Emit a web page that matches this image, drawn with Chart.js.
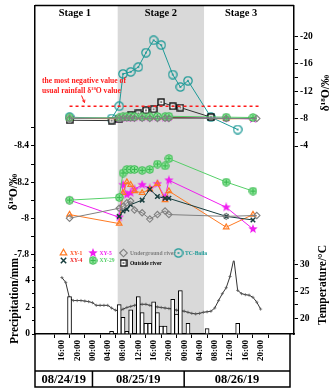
<!DOCTYPE html>
<html>
<head>
<meta charset="utf-8">
<script src="https://cdn.jsdelivr.net/npm/chart.js@4.4.0/dist/chart.umd.min.js"></script>
<style>
  html, body { margin: 0; padding: 0; background: #fff; }
</style>
</head>
<body>
<canvas id="isoChart" width="329" height="390"></canvas>
<script>
const FONT = '"Liberation Serif", "Times New Roman", serif';

// all times are hours counted from 08/24/19 00:00
const gwTime = [18, 31, 32, 33, 34, 35, 37, 39, 41, 43, 44, 59, 66];
const xy1  = [-8.02, -7.97, -8.14, -8.20, -8.185, -8.15, -8.14, -8.16, -8.19, -8.10, -8.15, -7.95, -8.02];
const xy4  = [null, -8.01, -8.04, -8.05, -8.075, null, -8.10, -8.16, -8.12, -8.11, -8.11, -8.01, -7.99];
const xy5  = [-8.10, -8.005, -8.185, -8.13, -8.14, -8.16, -8.185, -8.165, -8.19, -8.115, -8.21, -8.06, -7.94];
const xy29 = [-8.10, -8.115, -8.25, -8.27, -8.27, -8.27, -8.265, -8.27, -8.30, -8.29, -8.33, -8.20, -8.15];

const ugTime  = [18, 31, 32, 33, 34, 35, 37, 39, 41, 43, 44, 59, 67];
const ugRiver = [-8.00, -8.055, -8.065, -8.085, -8.095, -8.045, -8.03, -7.995, -8.02, -8.04, -8.02, -8.01, -8.015];

const tcTime  = [18, 29, 31, 32, 34, 36, 38, 40, 42, 45, 47, 49, 55, 62];
const tcBaila = [-8.2, -8.0, -9.8, -14.5, -14.8, -15.5, -17.6, -19.4, -18.7, -14.4, -12.6, -13.5, -8.2, -6.4];

const orTime       = [18, 29, 31, 34, 36, 38, 40, 42, 45, 47, 55];
const outsideRiver = [-7.75, -7.7, -7.9, -8.5, -8.75, -9.2, -9.35, -10.4, -9.8, -9.6, -8.2];

// most negative usual rainfall value and the span it is drawn over
const rainfallLimit = -9.8;
const limitSpan = [18, 67.5];

const rainTime = [18, 29, 31, 32, 33, 34, 36, 37, 38, 39, 40, 41, 42, 43, 45, 46, 47, 49, 54, 62];
const rainMm   = [2.8, 0.2, 2.2, 1.25, 0.2, 1.8, 2.8, 1.6, 0.8, 0.8, 2.4, 1.6, 0.6, 0.6, 2.6, 1.5, 3.25, 0.8, 0.4, 0.8];

const tempTime = [16, 17, 18, 19, 20, 21, 22, 23, 24, 25, 26, 27, 28, 29, 30, 31, 32, 33, 34, 35, 36, 37, 38, 39, 40, 41, 42,
                  43, 44, 45, 46, 47, 48, 49, 50, 51, 52, 53, 54, 55, 56, 57, 58, 59, 60, 61, 62, 63, 64, 65, 66, 67, 68];
const tempC = [27.6, 26.7, 23.7, 23.3, 23.3, 23.3, 23.2, 23.1, 22.9, 22.4, 22.4, 22.4, 22.4, 21.9, 21.5, 21.3, 21.7, 22.0,
               22.2, 22.4, 22.6, 22.6, 22.6, 22.4, 22.2, 22.1, 22.0, 21.9, 21.8, 21.7, 21.5, 21.4, 21.3, 21.1, 20.9, 20.8,
               20.9, 21.1, 21.2, 21.3, 21.9, 23.3, 24.6, 25.7, 27.8, 31.1, 25.2, 24.6, 24.4, 24.3, 23.9, 23.0, 21.7];

const stageBounds = [30.6, 53.2];
const stageNames = ['Stage 1', 'Stage 2', 'Stage 3'];
const stageLabelTime = [19.4, 41.9, 62.9];
const dayBreaks = [24, 48];
const dayNames = ['08/24/19', '08/25/19', '08/26/19'];
const timeTicks = [16, 20, 24, 28, 32, 36, 40, 44, 48, 52, 56, 60, 64, 68];
const midTicks = [-8.5, -8.4, -8.3, -8.2, -8.1, -8.0, -7.9, -7.8];
const topTicks = [-20, -18, -16, -14, -12, -10, -8, -6, -4];
const rainTicks = [0, 1, 2, 3, 4, 5];
const tempTicks = [20, 22.5, 25, 27.5, 30];

const ORANGE = '#ff7a22', DARK = '#173d3d', MAGENTA = '#f01ef0', GREEN = '#55cf68',
      GRAY = '#808080', TEAL = '#1d9a97';

function markerCanvas(size, draw) {
  const c = document.createElement('canvas');
  c.width = size; c.height = size;
  draw(c.getContext('2d'), size);
  return c;
}

const starMark = markerCanvas(10, (g, s) => {
  const c = s / 2;
  g.beginPath();
  for (let i = 0; i < 10; i++) {
    const r = i % 2 ? c * 0.42 : c * 0.98;
    const a = -Math.PI / 2 + i * Math.PI / 5;
    g.lineTo(c + r * Math.cos(a), c + r * Math.sin(a));
  }
  g.closePath();
  g.fillStyle = MAGENTA;
  g.fill();
});

const plusMark = markerCanvas(9, (g, s) => {
  const c = s / 2;
  g.beginPath();
  g.arc(c, c, c - 0.7, 0, Math.PI * 2);
  g.fillStyle = '#86e293';
  g.fill();
  g.strokeStyle = '#38b84f';
  g.lineWidth = 1;
  g.stroke();
  g.beginPath();
  g.moveTo(c, 2); g.lineTo(c, s - 2);
  g.moveTo(2, c); g.lineTo(s - 2, c);
  g.stroke();
});

const ringMark = markerCanvas(10, (g, s) => {
  const c = s / 2;
  g.beginPath();
  g.arc(c, c, c - 0.8, 0, Math.PI * 2);
  g.strokeStyle = TEAL;
  g.lineWidth = 1.2;
  g.stroke();
  g.beginPath();
  g.arc(c, c, 1, 0, Math.PI * 2);
  g.fillStyle = TEAL;
  g.fill();
});

const boxMark = markerCanvas(8, (g, s) => {
  g.fillStyle = '#fff';
  g.fillRect(1, 1, s - 2, s - 2);
  g.strokeStyle = '#000';
  g.lineWidth = 1.3;
  g.strokeRect(1, 1, s - 2, s - 2);
  g.fillStyle = '#000';
  g.fillRect(s / 2 - 0.7, s / 2 - 0.7, 1.4, 1.4);
});

const looks = {
  'XY-1': { borderColor: ORANGE, pointStyle: 'triangle', pointRadius: 3.2, pointBorderColor: ORANGE,
            pointBackgroundColor: 'rgba(255,255,255,0)', pointBorderWidth: 1.2 },
  'XY-4': { borderColor: DARK, pointStyle: 'crossRot', pointRadius: 3.2, pointBorderColor: DARK, pointBorderWidth: 1.5 },
  'XY-5': { borderColor: MAGENTA, pointStyle: starMark },
  'XY-29': { borderColor: GREEN, pointStyle: plusMark },
  'Underground river': { borderColor: GRAY, pointStyle: 'rectRot', pointRadius: 3.2, pointBorderColor: GRAY,
                         pointBackgroundColor: 'rgba(255,255,255,0)', pointBorderWidth: 1.1 },
  'Outside river': { borderColor: '#333', pointStyle: boxMark },
  'TC-Baila': { borderColor: TEAL, pointStyle: ringMark }
};

function series(label, ts, vs, axis) {
  return Object.assign({
    type: 'line', label, yAxisID: axis,
    data: ts.map((t, i) => ({ x: t, y: vs[i] })).filter(p => p.y !== null),
    borderWidth: 1, tension: 0, spanGaps: true
  }, looks[label]);
}

const datasets = [
  {
    type: 'bar', label: 'Precipitation', yAxisID: 'yP',
    data: rainTime.map((t, i) => ({ x: t, y: rainMm[i] })),
    backgroundColor: '#fff', borderColor: '#000', borderWidth: 1,
    barThickness: 4, grouped: false
  },
  {
    type: 'line', label: 'Temperature', yAxisID: 'yT',
    data: tempTime.map((t, i) => ({ x: t, y: tempC[i] })),
    borderColor: '#333', borderWidth: 1, pointStyle: 'cross', pointRadius: 1.6,
    pointBorderColor: '#555', pointBorderWidth: 0.7, tension: 0
  },
  {
    type: 'line', label: 'Rainfall limit', yAxisID: 'yTop',
    data: limitSpan.map(t => ({ x: t, y: rainfallLimit })),
    borderColor: '#ff1a1a', borderWidth: 1.6, borderDash: [3, 3], pointRadius: 0
  },
  // groundwater series again on the wide right-hand scale
  series('Underground river', ugTime, ugRiver, 'yTop'),
  series('XY-29', gwTime, xy29, 'yTop'),
  series('XY-4', gwTime, xy4, 'yTop'),
  series('XY-1', gwTime, xy1, 'yTop'),
  series('XY-5', gwTime, xy5, 'yTop'),
  series('Outside river', orTime, outsideRiver, 'yTop'),
  series('TC-Baila', tcTime, tcBaila, 'yTop'),
  // groundwater series on the narrow left-hand scale
  series('XY-29', gwTime, xy29, 'yMid'),
  series('Underground river', ugTime, ugRiver, 'yMid'),
  series('XY-4', gwTime, xy4, 'yMid'),
  series('XY-1', gwTime, xy1, 'yMid'),
  series('XY-5', gwTime, xy5, 'yMid')
];

const clock = t => String(t % 24).padStart(2, '0') + ':00';
const setTicks = list => s => { s.ticks = list.map(v => ({ value: v })); };
const fitSide = s => { s.width = 35; s.paddingTop = 0; s.paddingBottom = 0; };
const axisLine = { color: '#000', width: 1.5 };

function sideAxis(position, stack, weight, min, max, list, label, extra) {
  return Object.assign({
    type: 'linear', position, stack, stackWeight: weight, min, max,
    afterBuildTicks: setTicks(list), afterFit: fitSide,
    ticks: { autoSkip: false, padding: 2, color: '#000', font: { size: 9.5, weight: 'bold' }, callback: label },
    grid: { drawOnChartArea: false, tickLength: 4, color: '#000' },
    border: axisLine
  }, extra || {});
}

// rich text with a raised "18" in δ18O
function richText(ctx, parts, x, y, size, align) {
  const fontOf = sup => `bold ${sup ? size * 0.62 : size}px ${FONT}`;
  let w = 0;
  parts.forEach(([t, sup]) => { ctx.font = fontOf(sup); w += ctx.measureText(t).width; });
  let cx = align === 'center' ? x - w / 2 : x;
  ctx.textAlign = 'left';
  ctx.textBaseline = 'alphabetic';
  parts.forEach(([t, sup]) => {
    ctx.font = fontOf(sup);
    ctx.fillText(t, cx, sup ? y - size * 0.38 : y);
    cx += ctx.measureText(t).width;
  });
}

function upText(ctx, parts, cx, cy, size) {
  ctx.save();
  ctx.translate(cx, cy);
  ctx.rotate(-Math.PI / 2);
  richText(ctx, parts, 0, size * 0.35, size, 'center');
  ctx.restore();
}

const deltaTitle = [['δ', false], ['18', true], ['O/‰', false]];

const legendSpots = [
  { label: 'XY-1', x: 63.5, y: 253, color: '#ff4f1f' },
  { label: 'XY-5', x: 93, y: 253, color: MAGENTA },
  { label: 'Underground river', x: 123.5, y: 253, color: GRAY },
  { label: 'TC-Baila', x: 178.5, y: 253, color: TEAL },
  { label: 'XY-4', x: 63.5, y: 260.5, color: '#ee1c1c' },
  { label: 'XY-29', x: 93, y: 260.5, color: GREEN },
  { label: 'Outside river', x: 123.5, y: 263, color: '#000' }
];

const decor = {
  id: 'decor',
  beforeDraw(chart) {
    const { ctx, chartArea: a, scales: { x } } = chart;
    const x0 = x.getPixelForValue(stageBounds[0]);
    const x1 = x.getPixelForValue(stageBounds[1]);
    ctx.save();
    ctx.fillStyle = '#d9d9d9';
    ctx.fillRect(x0, a.top, x1 - x0, a.bottom - a.top);
    ctx.restore();
  },
  afterDraw(chart) {
    const { ctx, chartArea: a, scales: { x } } = chart;
    ctx.save();
    ctx.strokeStyle = '#000';
    ctx.lineWidth = 1.5;

    // top edge of the plot and the date strip underneath
    const tableRight = 290, rowTop = 371, bottom = 387;
    ctx.beginPath();
    ctx.moveTo(a.left, a.top); ctx.lineTo(a.right, a.top);
    ctx.moveTo(a.left, a.bottom); ctx.lineTo(a.left, bottom); ctx.lineTo(tableRight, bottom); ctx.lineTo(tableRight, a.bottom);
    ctx.moveTo(a.left, rowTop); ctx.lineTo(tableRight, rowTop);
    dayBreaks.forEach(t => {
      const px = x.getPixelForValue(t);
      ctx.moveTo(px, rowTop); ctx.lineTo(px, bottom);
    });
    ctx.stroke();

    ctx.fillStyle = '#000';
    ctx.font = `bold 12.5px ${FONT}`;
    ctx.textAlign = 'center';
    ctx.textBaseline = 'alphabetic';
    const cells = [a.left, ...dayBreaks.map(t => x.getPixelForValue(t)), tableRight];
    dayNames.forEach((d, i) => ctx.fillText(d, (cells[i] + cells[i + 1]) / 2, 382.5));

    ctx.font = `bold 10.5px ${FONT}`;
    stageNames.forEach((s, i) => ctx.fillText(s, x.getPixelForValue(stageLabelTime[i]), 15.5));

    // axis titles
    upText(ctx, deltaTitle, 13, 192, 11.5);
    upText(ctx, [['Precipitation/mm', false]], 14, 301, 11.5);
    upText(ctx, deltaTitle, 325, 93, 11.5);
    upText(ctx, [['Temperature/°C', false]], 322, 285, 11.5);

    // note on the red dashed line
    ctx.fillStyle = '#ff1a1a';
    richText(ctx, [['the most negative value of', false]], 42, 83, 7.6, 'left');
    richText(ctx, [['usual rainfall δ', false], ['18', true], ['O value', false]], 42, 92.5, 7.6, 'left');
    ctx.strokeStyle = '#ff1a1a';
    ctx.lineWidth = 1;
    ctx.beginPath();
    ctx.moveTo(81.5, 95.5); ctx.lineTo(84.5, 102.5);
    ctx.moveTo(84.5, 102.5); ctx.lineTo(82.2, 100.6);
    ctx.moveTo(84.5, 102.5); ctx.lineTo(84.9, 99.6);
    ctx.stroke();

    // legend
    legendSpots.forEach(spot => {
      const ds = chart.data.datasets.find(d => d.label === spot.label);
      ctx.save();
      ctx.strokeStyle = ds.pointBorderColor || ds.borderColor;
      ctx.fillStyle = ds.pointBackgroundColor || '#fff';
      ctx.lineWidth = ds.pointBorderWidth || 1;
      Chart.helpers.drawPoint(ctx, {
        pointStyle: ds.pointStyle, radius: (ds.pointRadius || 3) + 0.6,
        borderWidth: ds.pointBorderWidth || 1, rotation: 0
      }, spot.x, spot.y);
      ctx.restore();
      ctx.fillStyle = spot.color;
      ctx.font = `bold 5.6px ${FONT}`;
      ctx.textAlign = 'left';
      ctx.textBaseline = 'middle';
      ctx.fillText(spot.label, spot.x + 6.5, spot.y + 0.3);
    });
    ctx.restore();
  }
};

Chart.defaults.font.family = FONT;
Chart.defaults.font.weight = 'bold';
Chart.defaults.color = '#000';

new Chart(document.getElementById('isoChart'), {
  data: { datasets },
  options: {
    responsive: false,
    animation: false,
    events: [],
    layout: { padding: { top: 2, left: 0, right: 0, bottom: 0 } },
    plugins: { legend: { display: false }, tooltip: { enabled: false } },
    scales: {
      x: {
        type: 'linear', position: 'bottom', min: 11.383, max: 74.32,
        afterBuildTicks: setTicks(timeTicks),
        afterFit: s => { s.height = 56; s.paddingLeft = 0; s.paddingRight = 0; },
        ticks: { autoSkip: false, minRotation: 90, maxRotation: 90, padding: 2, color: '#000',
                 font: { size: 9, weight: 'bold' }, callback: v => clock(v) },
        grid: { drawOnChartArea: false, tickLength: 4, color: '#000' },
        border: axisLine
      },
      yP: sideAxis('left', 'left', 74, 0, 5.48, rainTicks, v => (v % 2 === 0 ? String(v) : ''),
                   { grid: { drawOnChartArea: false, tickLength: 3, color: '#000' } }),
      yMid: sideAxis('left', 'left', 258, -9.178, -7.764, midTicks,
                     v => (Math.round(v * 10) % 2 === 0 ? String(+v.toFixed(1)) : ''), { reverse: true }),
      yTop: sideAxis('right', 'right', 258, -24.47, 12.72, topTicks,
                     v => (v % 4 === 0 ? String(v) : ''), { reverse: true }),
      yT: sideAxis('right', 'right', 74, 17.04, 30.74, tempTicks, v => (v % 5 === 0 ? String(v) : ''))
    }
  },
  plugins: [decor]
});
</script>
</body>
</html>
